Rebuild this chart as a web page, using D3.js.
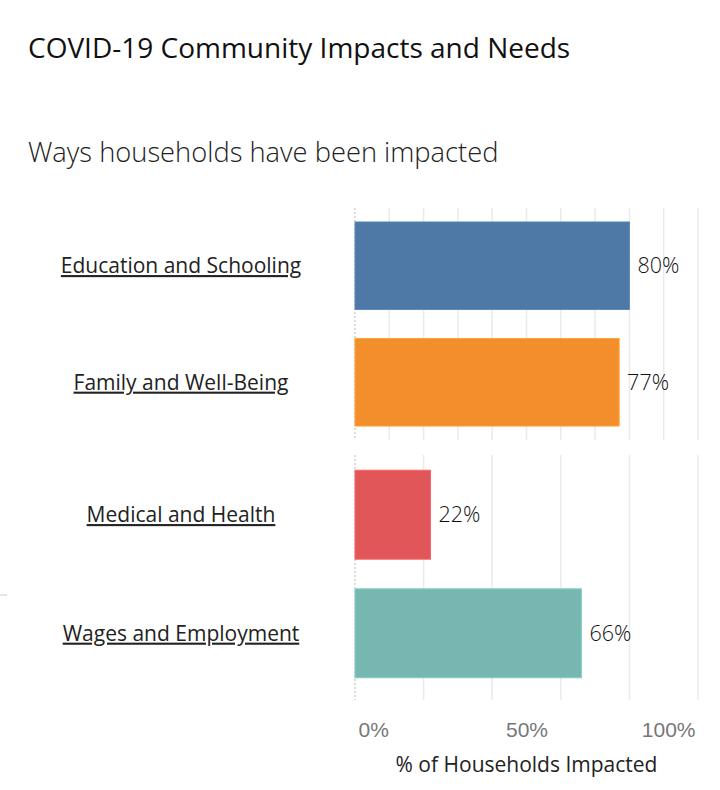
<!DOCTYPE html>
<html>
<head>
<meta charset="utf-8">
<script src="https://cdn.jsdelivr.net/npm/d3@7"></script>
<style>
  body { margin: 0; background: #fff; }
  svg { display: block; font-family: "Open Sans", "Noto Sans", sans-serif; }
</style>
</head>
<body>
<div id="chart"></div>
<script>
// Layout
const width = 720;
const height = 790;

// Data
const categories = ["Education and Schooling", "Family and Well-Being", "Medical and Health", "Wages and Employment"];
const values = [80, 77, 22, 66];
const panels = [0, 0, 1, 1];  // which pane each row sits in
const colors = ["#4e79a7", "#f28e2b", "#e15759", "#76b7b2"];
const tickValues = [0, 50, 100];
const gridSteps = [10, 20];  // gridline spacing, top pane then bottom pane

const rows = categories.map((c, i) => ({ name: c, value: values[i], panel: panels[i], color: colors[i] }));

// panes (y extents in px): where the bars go, and how far the gridlines run
const paneRanges = [[208, 440], [456, 692]];
const gridRanges = [[208, 440], [455, 700]];

const x = d3.scaleLinear().domain([0, 100]).range([355, 698]);

const svg = d3.select("#chart").append("svg")
  .attr("width", width)
  .attr("height", height);

// Titles
svg.append("text")
  .attr("x", 28).attr("y", 58)
  .attr("font-size", 28)
  .attr("fill", "#111")
  .text("COVID-19 Community Impacts and Needs");

svg.append("text")
  .attr("x", 28).attr("y", 162)
  .attr("font-size", 27.3)
  .attr("font-weight", 300)
  .attr("fill", "#222")
  .text("Ways households have been impacted");

// one pane per group
paneRanges.forEach((range, p) => {
  const paneRows = rows.filter(d => d.panel === p);
  const y = d3.scaleBand()
    .domain(paneRows.map(d => d.name))
    .range(range)
    .paddingInner(0.25)
    .paddingOuter(0.12);

  const g = svg.append("g");
  const gr = gridRanges[p];

  // gridlines
  const grid = d3.range(gridSteps[p], 101, gridSteps[p]);
  g.selectAll("line.grid").data(grid).join("line")
    .attr("class", "grid")
    .attr("x1", d => x(d)).attr("x2", d => x(d))
    .attr("y1", gr[0]).attr("y2", gr[1])
    .attr("stroke", "#ebebeb")
    .attr("stroke-width", 1.5);

  // zero line
  g.append("line")
    .attr("x1", x(0)).attr("x2", x(0))
    .attr("y1", gr[0]).attr("y2", gr[1])
    .attr("stroke", "#bbb")
    .attr("stroke-dasharray", "2,2");

  g.selectAll("rect").data(paneRows).join("rect")
    .attr("x", x(0))
    .attr("y", d => y(d.name))
    .attr("width", d => x(d.value) - x(0))
    .attr("height", y.bandwidth())
    .attr("fill", d => d.color)
    .attr("stroke", d => d3.color(d.color).brighter(0.3))
    .attr("stroke-width", 1);

  g.selectAll("text.val").data(paneRows).join("text")
    .attr("class", "val")
    .attr("x", d => x(d.value) + 8)
    .attr("y", d => y(d.name) + y.bandwidth() / 2)
    .attr("dy", "0.35em")
    .attr("font-size", 21.5)
    .attr("font-weight", 300)
    .attr("fill", "#111")
    .text(d => d.value + "%");

  // row labels, underlined like links
  g.selectAll("text.lbl").data(paneRows).join("text")
    .attr("class", "lbl")
    .attr("x", 181)
    .attr("y", d => y(d.name) + y.bandwidth() / 2)
    .attr("dy", "0.35em")
    .attr("text-anchor", "middle")
    .attr("font-size", 21)
    .attr("fill", "#222")
    .attr("text-decoration", "underline")
    .text(d => d.name);
});

// small mark on the left edge
svg.append("line")
  .attr("x1", 0).attr("x2", 7)
  .attr("y1", 595).attr("y2", 595)
  .attr("stroke", "#ccc");

// x axis
const axis = svg.append("g")
  .attr("transform", "translate(0,700)")
  .call(d3.axisBottom(x).tickValues(tickValues).tickFormat(d => d + "%").tickSize(0).tickPadding(22));
axis.select(".domain").remove();
axis.selectAll("text")
  .attr("font-size", 21)
  .attr("font-weight", 300)
  .attr("fill", "#777")
  .attr("font-family", null)
  .attr("text-anchor", d => d === 0 ? "start" : d === 100 ? "end" : "middle")
  .attr("dx", d => d === 0 ? 3 : d === 100 ? -3 : 0);

svg.append("text")
  .attr("x", x(50))
  .attr("y", 772)
  .attr("text-anchor", "middle")
  .attr("font-size", 21)
  .attr("fill", "#222")
  .text("% of Households Impacted");
</script>
</body>
</html>
